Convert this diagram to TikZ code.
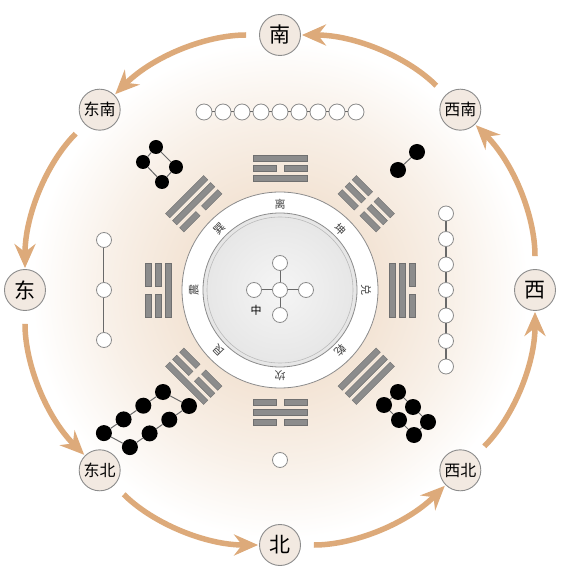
\documentclass[tikz,border=0pt]{standalone}
\usepackage{fontspec}
\newfontfamily\cjk{Noto Sans CJK SC}
\usetikzlibrary{arrows.meta, positioning}

\definecolor{glowc}{RGB}{243,228,213}
\definecolor{flowc}{RGB}{221,170,122}
\definecolor{dirfill}{RGB}{242,233,225}
\definecolor{edgec}{RGB}{140,140,140}
\definecolor{barc}{RGB}{140,140,140}
\definecolor{linkc}{RGB}{105,105,105}
\definecolor{discc}{RGB}{230,230,230}
\pgfdeclareradialshading{glow}{\pgfpoint{0bp}{0bp}}{color(0bp)=(glowc); color(9bp)=(glowc); color(16bp)=(glowc!55!white); color(23bp)=(white); color(25bp)=(white)}

% one line of a trigram: #1 offset, #2 = 1 solid / 0 broken
\newcommand{\yaoline}[2]{%
  \ifnum#2=1
    \draw[yaobar] (-27,#1-3) rectangle (27,#1+3);
  \else
    \draw[yaobar] (-27,#1-3) rectangle (-4,#1+3);
    \draw[yaobar] (4,#1-3) rectangle (27,#1+3);
  \fi}
% trigram at angle #1, lines listed from inside to outside
\newcommand{\gua}[4]{%
  \begin{scope}[shift={(#1:122)}, rotate=#1-90]
    \yaoline{-10}{#2}
    \yaoline{0}{#3}
    \yaoline{10}{#4}
  \end{scope}}

\begin{document}
\begin{tikzpicture}[x=1pt, y=1pt, font=\cjk,
    dirnode/.style={circle, draw=edgec, line width=0.9pt, fill=dirfill, minimum size=41pt, inner sep=0pt, font=\cjk\fontsize{21}{21}\selectfont},
    dirnode2/.style={dirnode, font=\cjk\fontsize{16}{16}\selectfont},
    flow/.style={draw=flowc, line width=5.5pt, -{Stealth[length=24pt, width=21pt, inset=8pt]}, shorten <=13pt, shorten >=1pt},
    hollow/.style={circle, draw=edgec, line width=0.8pt, fill=white, minimum size=15pt, inner sep=0pt},
    blackdot/.style={circle, fill=black, minimum size=16pt, inner sep=0pt},
    link/.style={draw=linkc, line width=1pt},
    yaobar/.style={fill=barc, draw=barc!80!black, line width=0.4pt},
    gualabel/.style={font=\cjk\fontsize{11}{11}\selectfont, text=black!75, inner sep=0pt}]

    \path[fill=white, use as bounding box] (-280,-290) rectangle (289,290);
    \shade[shading=glow] (0,0) circle (270);

    % inner ring and disc
    \draw[fill=white, draw=edgec, line width=0.8pt] (0,0) circle (98);
    \shade[inner color=white!60!discc, outer color=discc, draw=edgec, line width=0.8pt] (0,0) circle (77);
    \draw[draw=edgec!60, line width=0.6pt] (0,0) circle (73);

    \foreach \ang/\txt/\nm in {90/离/li, 45/坤/kun, 0/兑/dui, -45/乾/qian, -90/坎/kan, -135/艮/gen, 180/震/zhen, 135/巽/xun}
        \node[gualabel, rotate=\ang-90] (\nm) at (\ang:86) {\txt};

    % trigrams
    \gua{90}{1}{0}{1}
    \gua{45}{0}{0}{0}
    \gua{0}{1}{1}{0}
    \gua{-45}{1}{1}{1}
    \gua{-90}{0}{1}{0}
    \gua{-135}{0}{0}{1}
    \gua{180}{1}{0}{0}
    \gua{135}{0}{1}{1}

    % centre: five
    \node[hollow] (m0) at (0,0) {};
    \node[hollow] (m1) at (0,27) {};
    \node[hollow] (m2) at (-26,0) {};
    \node[hollow] (m3) at (26,0) {};
    \node[hollow] (m4) at (0,-25) {};
    \foreach \k in {1,...,4} \draw[link] (m0) -- (m\k);
    \node[font=\cjk\fontsize{11}{11}\selectfont] (zhong) at (-24,-20) {中};

    % south: nine
    \foreach \k in {1,...,9} \node[hollow, minimum size=16pt] (s\k) at ({-76+19*(\k-1)},178) {};
    \foreach \k [remember=\k as \p (initially 1)] in {2,...,9} \draw[link] (s\p) -- (s\k);

    % southwest: two
    \node[blackdot] (f1) at (137,138) {};
    \node[blackdot] (f2) at (118,120) {};
    \draw[link] (f1) -- (f2);

    % west: seven
    \foreach \k in {1,...,7} \node[hollow] (w\k) at (166,{76.5-25.5*(\k-1)}) {};
    \foreach \k [remember=\k as \p (initially 1)] in {2,...,7} \draw[link, line width=1.6pt] (w\p) -- (w\k);

    % northwest: six
    \foreach \k in {1,2,3} {
        \node[blackdot] (a\k) at ({104+15*(\k-1)},{-115-15*(\k-1)}) {};
        \node[blackdot] (b\k) at ({118+15*(\k-1)},{-102-15*(\k-1)}) {};
    }
    \draw[link] (a1) -- (a2) -- (a3) -- (b3) -- (b2) -- (b1) -- (a1);

    % north: one
    \node[hollow] (g1) at (0,-170) {};

    % northeast: eight
    \foreach \k in {1,...,4} {
        \node[blackdot] (c\k) at ({-117-19.7*(\k-1)},{-102-13.7*(\k-1)}) {};
        \node[blackdot] (d\k) at ({-91-19.7*(\k-1)},{-116-13.7*(\k-1)}) {};
    }
    \draw[link] (c1) -- (c2) -- (c3) -- (c4) -- (d4) -- (d3) -- (d2) -- (d1) -- (c1);

    % east: three
    \node[hollow] (h1) at (-176,50) {};
    \node[hollow] (h2) at (-176,0) {};
    \node[hollow] (h3) at (-176,-50) {};
    \draw[link] (h1) -- (h2) -- (h3);

    % southeast: four
    \node[blackdot, minimum size=14pt] (e1) at (-124,143) {};
    \node[blackdot, minimum size=14pt] (e2) at (-137,128) {};
    \node[blackdot, minimum size=14pt] (e3) at (-118,108) {};
    \node[blackdot, minimum size=14pt] (e4) at (-104,123) {};
    \draw[link] (e1) -- (e2) -- (e3) -- (e4) -- (e1);

    % directions
    \node[dirnode] (nan) at (90:255) {南};
    \node[dirnode2] (xinan) at (45:255) {西南};
    \node[dirnode] (xi) at (0:255) {西};
    \node[dirnode2] (xibei) at (-45:255) {西北};
    \node[dirnode] (bei) at (-90:255) {北};
    \node[dirnode2] (dongbei) at (-135:255) {东北};
    \node[dirnode] (dong) at (180:255) {东};
    \node[dirnode2] (dongnan) at (135:255) {东南};

    \draw[flow] (xinan) to[bend right=22.5, looseness=0.88] (nan);
    \draw[flow] (nan) to[bend right=22.5, looseness=0.88] (dongnan);
    \draw[flow] (dongnan) to[bend right=22.5, looseness=0.88] (dong);
    \draw[flow] (dong) to[bend right=22.5, looseness=0.88] (dongbei);
    \draw[flow] (dongbei) to[bend right=22.5, looseness=0.88] (bei);
    \draw[flow] (bei) to[bend right=22.5, looseness=0.88] (xibei);
    \draw[flow] (xibei) to[bend right=22.5, looseness=0.88] (xi);
    \draw[flow] (xi) to[bend right=22.5, looseness=0.88] (xinan);
\end{tikzpicture}
\end{document}
